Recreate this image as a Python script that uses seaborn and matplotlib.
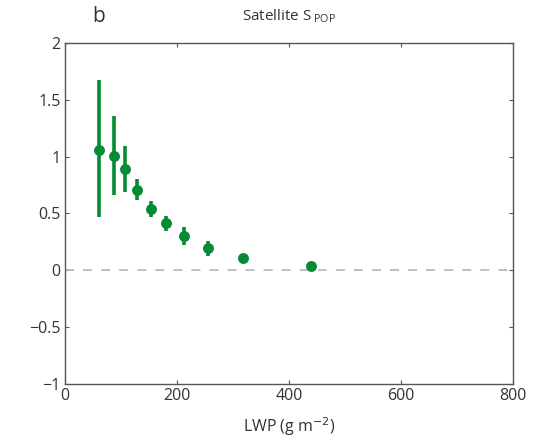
import matplotlib
matplotlib.use("Agg")
import matplotlib.pyplot as plt
import seaborn as sns
import numpy as np
import pandas as pd

lwp = [60, 87, 108, 129, 153, 180, 212, 256, 317, 440]
spop = [1.06, 1.01, 0.89, 0.71, 0.54, 0.42, 0.30, 0.20, 0.11, 0.04]
err_lo = [0.59, 0.35, 0.20, 0.09, 0.07, 0.07, 0.08, 0.07, 0.03, 0.02]
err_hi = [0.61, 0.35, 0.20, 0.09, 0.07, 0.06, 0.08, 0.06, 0.03, 0.02]
xticks = [0, 200, 400, 600, 800]
yticks = [-1, -0.5, 0, 0.5, 1, 1.5, 2]
ytick_labels = ["\u22121", "\u22120.5", "0", "0.5", "1", "1.5", "2"]

sns.set_style("white")
plt.rcParams['font.family'] = ['Open Sans', 'DejaVu Sans']

df = pd.DataFrame({"lwp": lwp, "spop": spop})
green = "#078a34"

fig = plt.figure(figsize=(5.43, 4.4), dpi=100)
ax = fig.add_axes([0.1197, 0.1273, 0.8251, 0.775])

ax.axhline(0, color="#bbbbbb", lw=1.3, ls=(0, (5, 5)), zorder=1)
ax.errorbar(df["lwp"], df["spop"], yerr=[err_lo, err_hi], fmt="none",
            ecolor=green, elinewidth=2.6, capsize=0, zorder=2)
sns.scatterplot(data=df, x="lwp", y="spop", ax=ax, color=green, s=62,
                edgecolor=green, linewidth=0, zorder=3)

ax.set_xlim(0, 800)
ax.set_ylim(-1, 2)
ax.set_xticks(xticks)
ax.set_xticklabels([str(t) for t in xticks])
ax.set_yticks(yticks)
ax.set_yticklabels(ytick_labels)
ax.tick_params(direction="in", length=3, width=0.8, color="#555555",
               labelsize=11.5, labelcolor="#333333", top=True, right=True,
               bottom=True, left=True, pad=3)
for s in ax.spines.values():
    s.set_visible(True)
    s.set_color("#555555")
    s.set_linewidth(1.0)

ax.set_xlabel("LWP (g m$^{-2}$)", fontsize=11.5, color="#333333", labelpad=8)
ax.set_ylabel("")
ax.set_title("Satellite S$\\,_{\\mathregular{POP}}$", fontsize=11, color="#333333", pad=16)
fig.text(0.182, 0.962, "b", fontsize=15, color="#333333", ha="center", va="center")

fig.savefig("out.png", dpi=100)
